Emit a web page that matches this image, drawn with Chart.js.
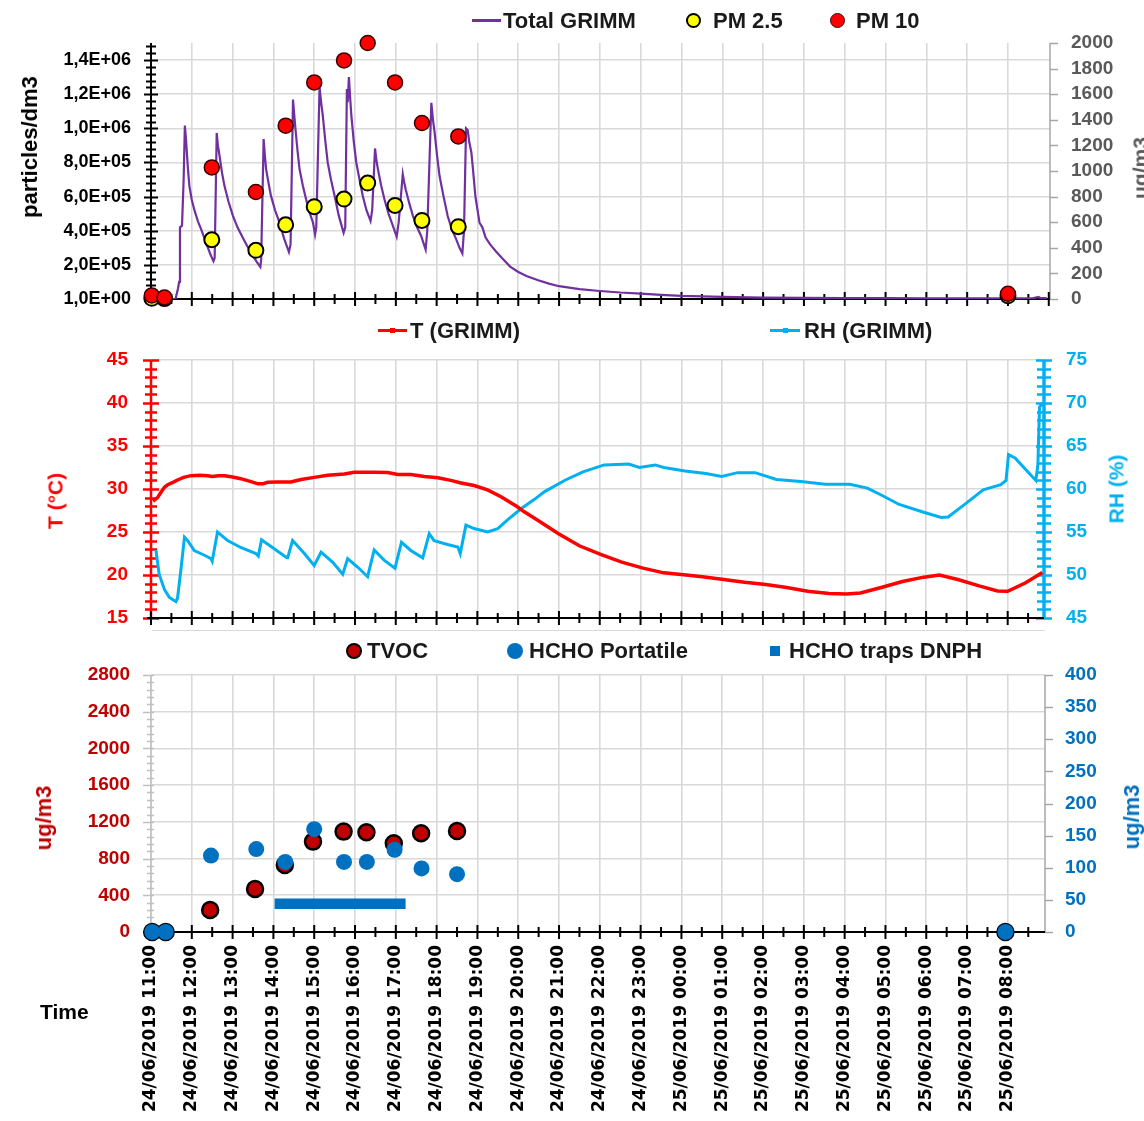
<!DOCTYPE html>
<html><head><meta charset="utf-8">
<script src="https://cdn.jsdelivr.net/npm/chart.js@4.4.1/dist/chart.umd.min.js"></script>
<style>
html,body{margin:0;padding:0;background:#fff;}
body{width:1144px;height:1121px;position:relative;overflow:hidden;font-family:"Liberation Sans",Arial,sans-serif;}
canvas{position:absolute;left:0;}
.lg{position:absolute;font-weight:bold;font-size:22px;color:#1a1a1a;line-height:22px;white-space:nowrap;transform:translateY(-50%);}
.mk{position:absolute;box-sizing:border-box;}
.ttl{position:absolute;font-weight:bold;white-space:nowrap;line-height:1;transform:translate(-50%,-50%) rotate(-90deg);}
</style></head>
<body>
<canvas id="c1" width="1144" height="320" style="top:0px"></canvas>
<canvas id="c2" width="1144" height="310" style="top:320px"></canvas>
<canvas id="c3" width="1144" height="491" style="top:630px"></canvas>

<div class="mk" style="left:152px;top:630px;width:893px;height:1px;background:#d9d9d9"></div>

<!-- legend top -->
<div class="mk" style="left:472px;top:19px;width:29px;height:3px;background:#7030a0"></div>
<div class="lg" style="left:503px;top:21px">Total GRIMM</div>
<div class="mk" style="left:686px;top:13px;width:15px;height:15px;border-radius:50%;background:#ffff00;border:2px solid #000"></div>
<div class="lg" style="left:713px;top:21px">PM 2.5</div>
<div class="mk" style="left:830px;top:13px;width:15px;height:15px;border-radius:50%;background:#ff0000;border:1.5px solid #400"></div>
<div class="lg" style="left:856px;top:21px">PM 10</div>

<!-- legend middle -->
<div class="mk" style="left:378px;top:329px;width:29px;height:3px;background:#ff0000"></div>
<div class="mk" style="left:390px;top:328px;width:5px;height:5px;background:#ff0000"></div>
<div class="lg" style="left:410px;top:331px">T (GRIMM)</div>
<div class="mk" style="left:770px;top:329px;width:30px;height:3px;background:#00b0f0"></div>
<div class="mk" style="left:783px;top:328px;width:5px;height:5px;background:#00b0f0"></div>
<div class="lg" style="left:804px;top:331px">RH (GRIMM)</div>

<!-- legend bottom -->
<div class="mk" style="left:346px;top:643px;width:16px;height:16px;border-radius:50%;background:#c00000;border:2.5px solid #000"></div>
<div class="lg" style="left:367px;top:651px">TVOC</div>
<div class="mk" style="left:507px;top:643px;width:16px;height:16px;border-radius:50%;background:#0070c0"></div>
<div class="lg" style="left:529px;top:651px">HCHO Portatile</div>
<div class="mk" style="left:770px;top:646px;width:10px;height:10px;background:#0070c0"></div>
<div class="lg" style="left:789px;top:651px">HCHO traps DNPH</div>

<!-- axis titles -->
<div class="ttl" style="left:30px;top:147px;font-size:22px;color:#000">particles/dm3</div>
<div class="ttl" style="left:1140px;top:168px;font-size:21px;color:#595959">ug/m3</div>
<div class="ttl" style="left:55px;top:501px;font-size:21px;color:#ff0000">T (°C)</div>
<div class="ttl" style="left:1116px;top:489px;font-size:21px;color:#00b0f0">RH (%)</div>
<div class="ttl" style="left:44px;top:818px;font-size:22px;color:#c00000">ug/m3</div>
<div class="ttl" style="left:1132px;top:817px;font-size:22px;color:#0070c0">ug/m3</div>
<div class="lg" style="left:40px;top:1012px;font-size:21px;color:#000">Time</div>

<script>
// ---------------- DATA ----------------
const xTickHours = [0,1,2,3,4,5,6,7,8,9,10,11,12,13,14,15,16,17,18,19,20,21];
const xTickLabels = ['24/06/2019 11:00','24/06/2019 12:00','24/06/2019 13:00','24/06/2019 14:00','24/06/2019 15:00','24/06/2019 16:00','24/06/2019 17:00','24/06/2019 18:00','24/06/2019 19:00','24/06/2019 20:00','24/06/2019 21:00','24/06/2019 22:00','24/06/2019 23:00','25/06/2019 00:00','25/06/2019 01:00','25/06/2019 02:00','25/06/2019 03:00','25/06/2019 04:00','25/06/2019 05:00','25/06/2019 06:00','25/06/2019 07:00','25/06/2019 08:00'];

const particleTicks = [0,200000,400000,600000,800000,1000000,1200000,1400000];
const particleTickLabels = ['1,0E+00','2,0E+05','4,0E+05','6,0E+05','8,0E+05','1,0E+06','1,2E+06','1,4E+06'];

// Total GRIMM (particles/dm3), hours after 24/06/2019 11:00
const grimmHours = [0.00,0.60,0.66,0.69,0.71,0.76,0.80,0.83,0.86,0.90,0.94,1.00,1.07,1.15,1.23,1.35,1.45,1.53,1.56,1.61,1.64,1.68,1.74,1.80,1.90,2.01,2.12,2.25,2.38,2.50,2.60,2.68,2.70,2.76,2.79,2.82,2.88,2.94,3.04,3.15,3.26,3.38,3.42,3.48,3.51,3.54,3.59,3.64,3.72,3.80,3.89,3.97,4.02,4.05,4.13,4.17,4.21,4.27,4.33,4.41,4.50,4.60,4.72,4.76,4.80,4.82,4.85,4.88,4.91,4.97,5.03,5.11,5.19,5.28,5.38,5.42,5.49,5.52,5.56,5.64,5.72,5.82,5.93,6.02,6.07,6.17,6.20,6.24,6.33,6.42,6.52,6.62,6.73,6.77,6.87,6.91,6.95,7.01,7.07,7.17,7.27,7.37,7.48,7.56,7.63,7.67,7.72,7.76,7.80,7.85,7.89,7.95,8.05,8.12,8.20,8.31,8.45,8.60,8.80,8.99,9.20,9.47,9.75,10.0,10.5,11.0,11.5,12.0,12.5,13.0,13.5,14.0,15.0,16.0,17.0,18.0,19.0,20.0,21.0,21.6,21.75,21.8,21.95];
const grimmTotal = [0,0,60000,100000,420000,430000,700000,1016000,930000,780000,663000,580000,516000,455000,408000,329000,265000,222000,240000,973000,900000,839000,740000,663000,570000,486000,420000,359000,300000,251000,215000,188000,230000,937000,840000,761000,680000,604000,520000,447000,355000,275000,320000,1169000,1080000,996000,870000,761000,665000,584000,505000,447000,378000,420000,1241000,1150000,1074000,930000,800000,700000,604000,490000,388000,420000,1231000,1153000,1300000,1180000,1074000,920000,800000,700000,604000,520000,457000,520000,882000,820000,761000,665000,584000,500000,427000,365000,450000,731000,690000,643000,560000,486000,420000,369000,290000,400000,1149000,1050000,976000,840000,722000,600000,486000,410000,349000,300000,267000,400000,1000000,990000,918000,860000,761000,600000,447000,420000,360000,320000,280000,240000,190000,160000,135000,111000,90000,75000,58000,47000,38000,32000,24000,18000,15000,12000,8000,7000,6000,5000,4500,4000,4000,4500,12000,5000,5000];

// PM (ug/m3)
const pmHours = [0.02,0.33,1.49,2.57,3.30,4.00,4.73,5.31,5.98,6.64,7.53,21.0];
const pm25 = [5,3,463,380,580,721,781,906,731,614,565,25];
const pm10 = [28,12,1028,836,1354,1692,1864,2000,1692,1375,1270,41];

// Temperature (°C) and RH (%)
const tHours = [0.05,0.16,0.24,0.33,0.41,0.55,0.65,0.80,0.98,1.20,1.39,1.50,1.65,1.80,2.00,2.20,2.45,2.62,2.75,2.86,3.10,3.43,3.55,3.68,4.00,4.33,4.74,4.98,5.47,5.80,6.05,6.37,6.70,7.03,7.35,7.60,7.92,8.25,8.58,8.99,9.13,9.47,9.99,10.5,11.02,11.54,12.06,12.57,13.0,13.52,13.99,14.55,15.07,15.58,16.1,16.62,17.05,17.39,17.9,18.42,18.94,19.33,19.8,20.32,20.75,21.0,21.44,21.85];
const tValues = [28.6,29.0,29.6,30.2,30.5,30.8,31.05,31.35,31.55,31.6,31.55,31.45,31.55,31.55,31.4,31.2,30.86,30.6,30.62,30.78,30.8,30.82,30.95,31.1,31.35,31.6,31.75,31.95,31.95,31.92,31.7,31.68,31.45,31.3,31.0,30.7,30.4,29.9,29.1,27.9,27.4,26.4,24.8,23.4,22.4,21.5,20.8,20.25,20.05,19.8,19.5,19.15,18.9,18.55,18.1,17.85,17.8,17.9,18.55,19.25,19.75,20.0,19.45,18.7,18.15,18.1,19.1,20.3];

const rhHours = [0.12,0.16,0.20,0.33,0.45,0.61,0.65,0.74,0.82,0.90,1.06,1.31,1.47,1.50,1.63,1.88,2.20,2.57,2.63,2.71,3.02,3.33,3.35,3.47,3.76,4.00,4.17,4.45,4.70,4.82,5.07,5.31,5.47,5.72,5.98,6.14,6.37,6.66,6.82,6.94,7.27,7.52,7.58,7.72,7.92,8.25,8.50,8.74,9.07,9.40,9.65,10.16,10.59,11.11,11.71,11.97,12.36,12.57,13.09,13.6,13.99,14.38,14.81,15.33,15.93,16.53,17.13,17.56,17.9,18.34,18.94,19.37,19.54,19.97,20.4,20.83,20.96,21.02,21.18,21.69,21.74,21.78,21.86];
const rhValues = [52.9,51.5,50.1,48.3,47.4,46.9,47.3,50.9,54.4,54.0,52.85,52.3,51.9,51.6,55.0,54.0,53.2,52.5,52.2,54.1,53.05,52.0,52.0,54.0,52.5,51.1,52.66,51.5,50.1,51.9,50.9,49.8,52.9,51.7,50.8,53.8,52.85,52.0,54.8,54.0,53.55,53.25,52.5,55.8,55.4,55.0,55.4,56.4,57.7,58.8,59.7,61.05,62.0,62.8,62.9,62.5,62.8,62.5,62.1,61.8,61.45,61.9,61.9,61.1,60.86,60.55,60.55,60.1,59.3,58.2,57.3,56.7,56.75,58.3,59.9,60.5,61.0,64.0,63.6,61.0,62.8,69.5,70.0];

// VOC panel
const tvocHours = [0.03,0.36,1.45,2.55,3.28,3.97,4.72,5.28,5.95,6.62,7.50,20.94];
const tvocValues = [0,0,240,469,731,985,1094,1087,967,1076,1101,0];
const hchoHours = [0.03,0.36,1.47,2.58,3.29,4.00,4.73,5.29,5.97,6.63,7.50,20.94];
const hchoValues = [0,0,119,129,109,160,109,109,128,99,90,0];
const dnphHours = [3.03,6.24];
const dnphValues = [44,44];

// ---------------- HELPERS ----------------
const pts = (xs, ys) => xs.map((x, i) => ({x: x, y: ys[i]}));
const GRID = '#d9d9d9';
const TICKFONT = {family: 'Liberation Sans', size: 19, weight: 'bold'};

const axisDeco = {
  id: 'axisDeco',
  beforeDatasetsDraw(chart, args, opts) {
    const ctx = chart.ctx, ca = chart.chartArea;
    ctx.save();
    ctx.lineCap = 'butt';
    const isMajor = (v, m) => Math.abs(v / m - Math.round(v / m)) < 1e-6;
    (opts.y || []).forEach(a => {
      const s = chart.scales[a.id];
      const left = a.side === 'left';
      const x = left ? ca.left : ca.right;
      const dir = left ? -1 : 1;
      ctx.strokeStyle = a.color;
      ctx.lineWidth = a.width;
      ctx.beginPath();
      ctx.moveTo(x, ca.top); ctx.lineTo(x, ca.bottom);
      ctx.stroke();
      ctx.lineWidth = a.tickWidth || a.width;
      ctx.beginPath();
      const n = Math.round((s.max - s.min) / a.minor);
      for (let i = 0; i <= n; i++) {
        const v = s.min + i * a.minor;
        if (v > s.max + 1e-9) break;
        const py = Math.round(s.getPixelForValue(v)) + 0.5;
        const len = isMajor(v, a.major) ? a.majorLen : a.minorLen;
        ctx.moveTo(x + dir * len[0], py); ctx.lineTo(x - dir * len[1], py);
      }
      ctx.stroke();
    });
    const xo = opts.x;
    if (xo) {
      const s = chart.scales.x;
      const y = ca.bottom;
      ctx.strokeStyle = xo.color;
      ctx.lineWidth = xo.width;
      ctx.beginPath();
      ctx.moveTo(ca.left - 4, y); ctx.lineTo(ca.right, y);
      const n = Math.floor((s.max - s.min) / xo.minor + 1e-9);
      for (let i = 0; i <= n; i++) {
        const v = s.min + i * xo.minor;
        const px = s.getPixelForValue(v);
        const len = isMajor(v, xo.major) ? xo.majorLen : xo.minorLen;
        ctx.moveTo(px, y + len[0]); ctx.lineTo(px, y - len[1]);
      }
      ctx.stroke();
    }
    ctx.restore();
  }
};

function xScale(max, height, showLabels) {
  return {
    type: 'linear', position: 'bottom', min: 0, max: max,
    afterBuildTicks: s => { s.ticks = xTickHours.map(v => ({value: v})); },
    afterFit: s => { s.height = height; },
    grid: {color: GRID, lineWidth: 1.6, drawTicks: false},
    border: {display: false},
    ticks: showLabels ? {
      display: true, autoSkip: false, maxRotation: 90, minRotation: 90, padding: 13,
      color: '#000', font: {family: 'DejaVu Sans', size: 17, weight: 'bold'},
      callback: v => xTickLabels[xTickHours.indexOf(v)]
    } : {display: false, padding: 0}
  };
}

function yScale(o) {
  const cfg = {
    type: 'linear', position: o.position, min: o.min, max: o.max,
    afterFit: s => { s.width = o.width; },
    grid: {display: true, drawOnChartArea: !!o.grid, color: GRID, lineWidth: 1.6,
           drawTicks: true, tickLength: o.padding, tickColor: 'rgba(0,0,0,0)'},
    border: {display: false},
    ticks: {color: o.color, font: o.font || TICKFONT, padding: 0, autoSkip: false,
            stepSize: o.step, callback: o.callback || (v => String(v))}
  };
  if (o.ticksList) cfg.afterBuildTicks = s => { s.ticks = o.ticksList.map(v => ({value: v})); };
  return cfg;
}

const common = {
  responsive: false, animation: false, events: [],
  plugins: {legend: {display: false}, tooltip: {enabled: false}}
};

// ---------------- CHART 1 ----------------
new Chart(document.getElementById('c1'), {
  type: 'line',
  data: {datasets: [
    {label: 'PM 10', data: pts(pmHours, pm10), yAxisID: 'y2', showLine: false, order: 0, clip: false,
     pointRadius: 7.5, backgroundColor: '#ff0000', borderColor: '#3a0000', pointBorderWidth: 1.5},
    {label: 'PM 2.5', data: pts(pmHours, pm25), yAxisID: 'y2', showLine: false, order: 1, clip: false,
     pointRadius: 7.5, backgroundColor: '#ffff00', borderColor: '#000', pointBorderWidth: 2},
    {label: 'Total GRIMM', data: pts(grimmHours, grimmTotal), yAxisID: 'y', order: 2,
     borderColor: '#7030a0', borderWidth: 2.2, pointRadius: 0, tension: 0}
  ]},
  options: Object.assign({}, common, {
    layout: {padding: {top: 43, bottom: 0, left: 0, right: 0}},
    scales: {
      x: xScale(22.03, 21, false),
      y: yScale({position: 'left', min: 0, max: 1500000, width: 151, grid: true, color: '#000', padding: 20,
                 font: {family: 'Liberation Sans', size: 18, weight: 'bold'}, ticksList: particleTicks,
                 callback: v => particleTickLabels[particleTicks.indexOf(v)]}),
      y2: yScale({position: 'right', min: 0, max: 2000, step: 200, width: 94, grid: false, color: '#595959', padding: 21})
    },
    plugins: Object.assign({}, common.plugins, {axisDeco: {
      y: [{id: 'y', side: 'left', color: '#000', width: 2, major: 200000, minor: 40000, majorLen: [7, 7], minorLen: [5, 5]},
          {id: 'y2', side: 'right', color: '#a6a6a6', width: 1.5, major: 200, minor: 200, majorLen: [8, 0], minorLen: [8, 0]}],
      x: {color: '#000', width: 2, major: 1, minor: 0.5, majorLen: [7, 7], minorLen: [5, 5]}
    }})
  }),
  plugins: [axisDeco]
});

// ---------------- CHART 2 ----------------
new Chart(document.getElementById('c2'), {
  type: 'line',
  data: {datasets: [
    {label: 'T (GRIMM)', data: pts(tHours, tValues), yAxisID: 'y', order: 0,
     borderColor: '#ff0000', borderWidth: 3.5, pointRadius: 0, tension: 0},
    {label: 'RH (GRIMM)', data: pts(rhHours, rhValues), yAxisID: 'y2', order: 1,
     borderColor: '#00b0f0', borderWidth: 3, pointRadius: 0, tension: 0}
  ]},
  options: Object.assign({}, common, {
    layout: {padding: {top: 40, bottom: 0, left: 0, right: 0}},
    scales: {
      x: xScale(21.89, 12, false),
      y: yScale({position: 'left', min: 15, max: 45, step: 5, width: 151, grid: true, color: '#ff0000', padding: 23}),
      y2: yScale({position: 'right', min: 45, max: 75, step: 5, width: 100, grid: false, color: '#00b0f0', padding: 22})
    },
    plugins: Object.assign({}, common.plugins, {axisDeco: {
      y: [{id: 'y', side: 'left', color: '#ff0000', width: 2.5, major: 5, minor: 1, majorLen: [8, 8], minorLen: [6, 6]},
          {id: 'y2', side: 'right', color: '#00b0f0', width: 3.5, tickWidth: 2.5, major: 5, minor: 1, majorLen: [8, 8], minorLen: [7, 7]}],
      x: {color: '#000', width: 2, major: 1, minor: 0.5, majorLen: [7, 7], minorLen: [5, 5]}
    }})
  }),
  plugins: [axisDeco]
});

// ---------------- CHART 3 ----------------
new Chart(document.getElementById('c3'), {
  type: 'line',
  data: {datasets: [
    {label: 'HCHO Portatile', data: pts(hchoHours, hchoValues), yAxisID: 'y2', showLine: false, order: 0, clip: false,
     pointRadius: 8, backgroundColor: '#0070c0', borderColor: '#0070c0', pointBorderWidth: 0},
    {label: 'HCHO traps DNPH', data: pts(dnphHours, dnphValues), yAxisID: 'y2', order: 1,
     borderColor: '#0070c0', borderWidth: 10.5, borderCapStyle: 'butt', pointRadius: 0, tension: 0},
    {label: 'TVOC', data: pts(tvocHours, tvocValues), yAxisID: 'y', showLine: false, order: 2, clip: false,
     pointRadius: 8, backgroundColor: '#c00000', borderColor: '#000', pointBorderWidth: 2.5}
  ]},
  options: Object.assign({}, common, {
    layout: {padding: {top: 45, bottom: 0, left: 0, right: 0}},
    scales: {
      x: xScale(21.91, 189, true),
      y: yScale({position: 'left', min: 0, max: 2800, step: 400, width: 151, grid: true, color: '#c00000', padding: 21}),
      y2: yScale({position: 'right', min: 0, max: 400, step: 50, width: 99, grid: false, color: '#0070c0', padding: 20})
    },
    plugins: Object.assign({}, common.plugins, {axisDeco: {
      y: [{id: 'y', side: 'left', color: '#bfbfbf', width: 1.5, major: 400, minor: 80, majorLen: [8, 3], minorLen: [4, 3]},
          {id: 'y2', side: 'right', color: '#a6a6a6', width: 1.5, major: 50, minor: 50, majorLen: [8, 0], minorLen: [8, 0]}],
      x: {color: '#000', width: 2, major: 1, minor: 0.5, majorLen: [7, 7], minorLen: [5, 5]}
    }})
  }),
  plugins: [axisDeco]
});
</script>
</body></html>
